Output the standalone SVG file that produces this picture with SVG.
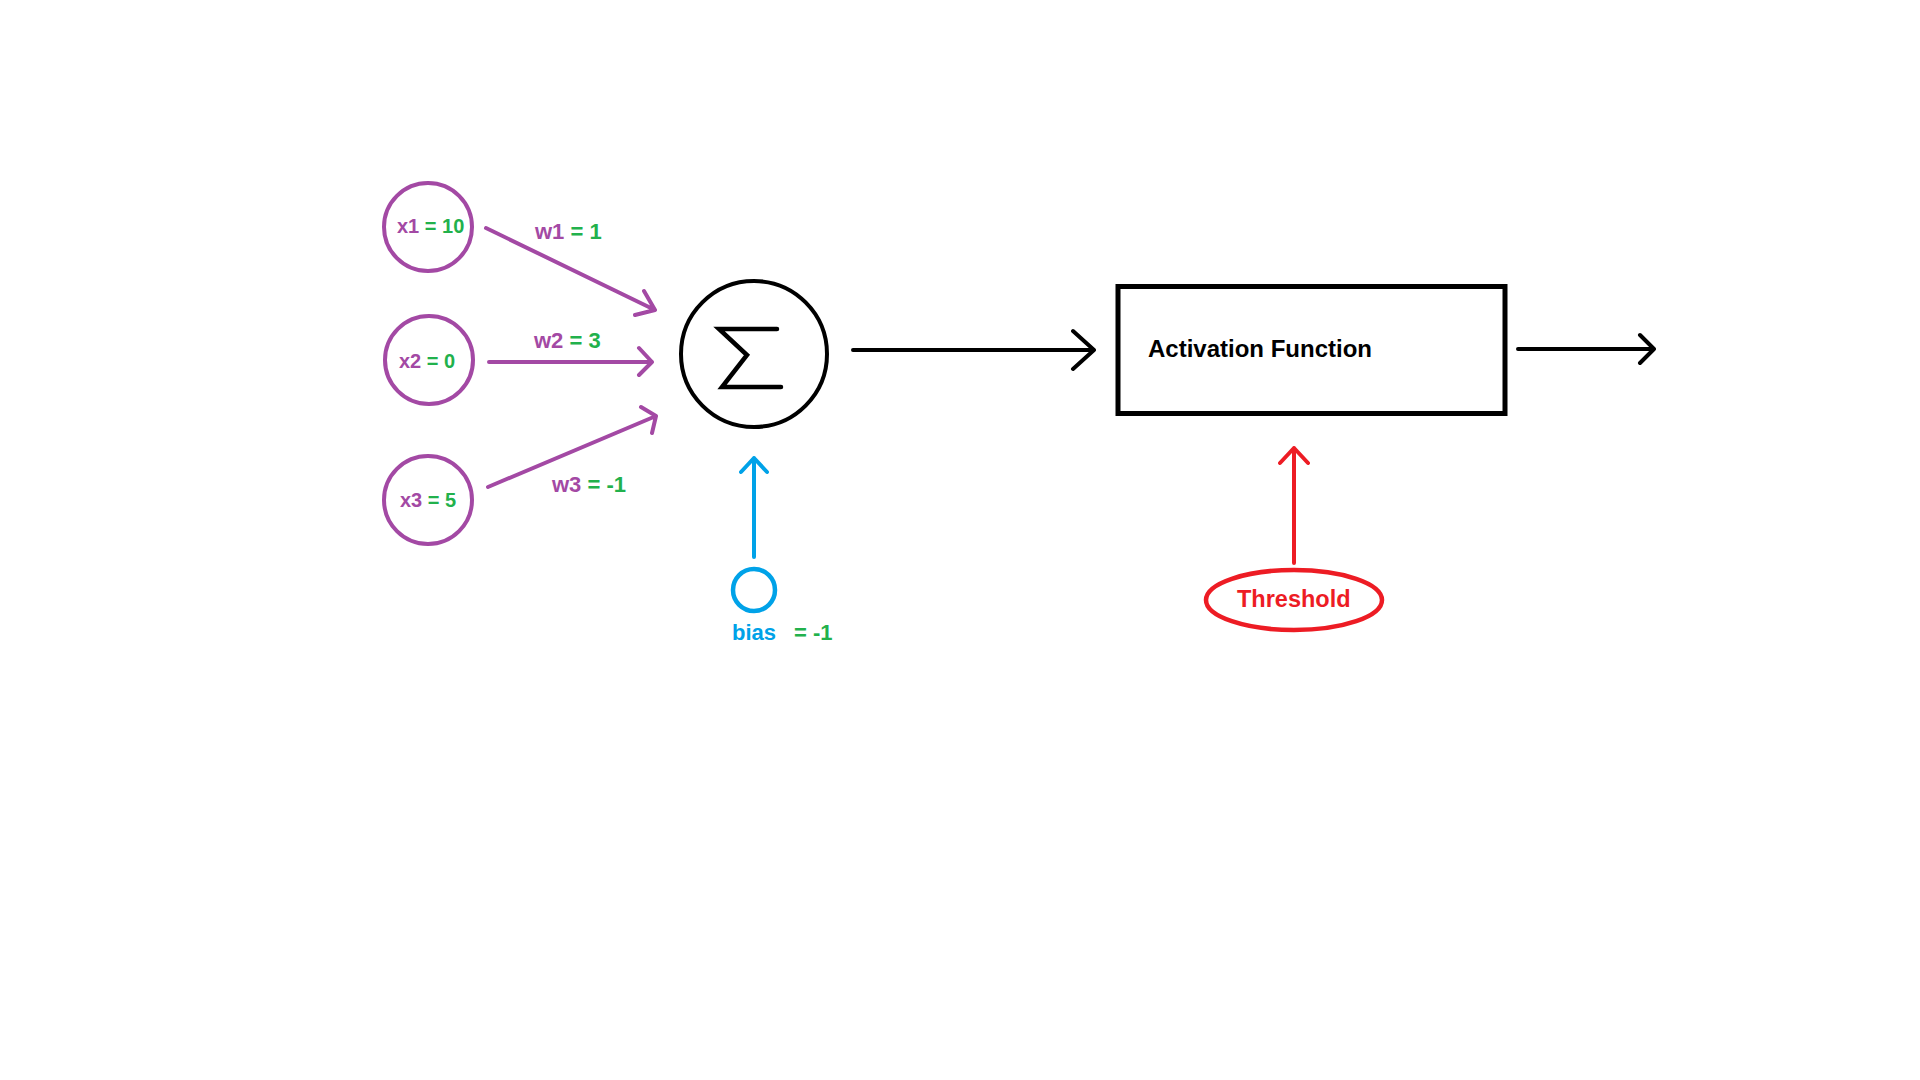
<svg xmlns="http://www.w3.org/2000/svg" width="1920" height="1080" viewBox="0 0 1920 1080">
<style>
text{font-family:"Liberation Sans",Arial,sans-serif;font-weight:bold}
.p{fill:#A349A4}.g{fill:#22B14C}.b{fill:#00A2E8}.r{fill:#ED1C24}.k{fill:#000}
.in{fill:none;stroke:#A349A4;stroke-width:4}
.con{fill:none;stroke-width:4;stroke-linecap:round;stroke-linejoin:round}
.cp{stroke:#A349A4}.ck{stroke:#000}.cb{stroke:#00A2E8}.cr{stroke:#ED1C24}
</style>
<rect width="1920" height="1080" fill="#fff"/>
<g id="x1">
<circle class="in" cx="428" cy="227" r="44"/>
<text x="397" y="233" font-size="20"><tspan class="p">x1</tspan><tspan class="g"> = 10</tspan></text>
</g>
<g id="x2">
<circle class="in" cx="429" cy="360" r="44"/>
<text x="399" y="368" font-size="20"><tspan class="p">x2</tspan><tspan class="g"> = 0</tspan></text>
</g>
<g id="x3">
<circle class="in" cx="428" cy="500" r="44"/>
<text x="400" y="507" font-size="20"><tspan class="p">x3</tspan><tspan class="g"> = 5</tspan></text>
</g>
<g id="sum">
<circle cx="754" cy="354" r="73" fill="none" stroke="#000" stroke-width="4"/>
<path d="M777 329 L719 329 L747 355 L722 387 L781 387" fill="none" stroke="#000" stroke-width="4.5" stroke-linecap="round" stroke-linejoin="miter"/>
</g>
<g id="bias">
<circle cx="754" cy="590" r="21" fill="none" stroke="#00A2E8" stroke-width="4.5"/>
<text x="732" y="640" font-size="22" class="b">bias</text>
<text x="794" y="640" font-size="22" class="g">= -1</text>
</g>
<g id="activation">
<rect x="1118" y="286.5" width="387" height="127" fill="none" stroke="#000" stroke-width="5"/>
<text x="1148" y="357" font-size="24" class="k">Activation Function</text>
</g>
<g id="threshold">
<ellipse cx="1294" cy="600" rx="88" ry="30" fill="none" stroke="#ED1C24" stroke-width="4.5"/>
<text x="1237" y="607" font-size="23.5" class="r">Threshold</text>
</g>
<g id="labels">
<text x="535" y="239" font-size="22"><tspan class="p">w1</tspan><tspan class="g"> = 1</tspan></text>
<text x="534" y="348" font-size="22"><tspan class="p">w2</tspan><tspan class="g"> = 3</tspan></text>
<text x="552" y="492" font-size="22"><tspan class="p">w3</tspan><tspan class="g"> = -1</tspan></text>
</g>
<g id="connectors">
<path class="con cp" d="M486 228 L655 310 M644 291 L655 310 L635 315"/>
<path class="con cp" d="M489 362 L652 362 M639 348 L652 362 L639 375"/>
<path class="con cp" d="M488 487 L656 416 M641 407 L656 416 L652 433"/>
<path class="con cb" d="M754 557 L754 458 M741 472 L754 458 L767 472"/>
<path class="con ck" d="M853 350 L1094 350 M1073 331 L1094 350 L1073 369"/>
<path class="con ck" d="M1518 349 L1654 349 M1640 335 L1654 349 L1640 363"/>
<path class="con cr" d="M1294 563 L1294 448 M1280 463 L1294 448 L1308 463"/>
</g>
</svg>
